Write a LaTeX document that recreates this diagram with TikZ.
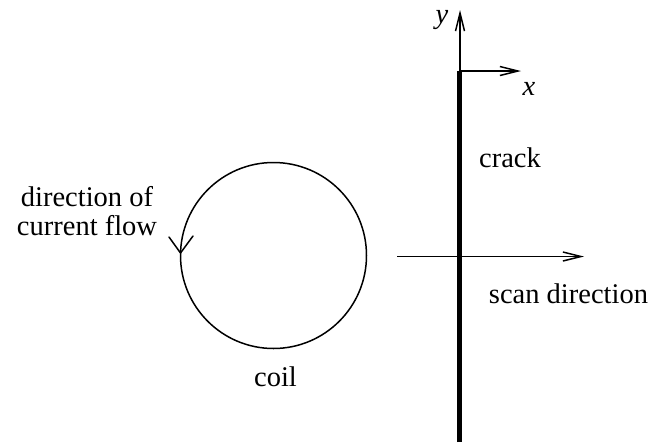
\documentclass[tikz,border=0pt]{standalone}
\usepackage{fontspec}
\setmainfont{Liberation Serif}
\usetikzlibrary{arrows.meta}
\begin{document}
\begin{tikzpicture}[x=1pt,y=-1pt,
  lbl/.style={inner sep=0pt,anchor=base,font=\fontsize{28.5}{29}\selectfont},
  thin line/.style={line width=1.5pt},
  axis arrow/.style={thin line,-{Straight Barb[length=18pt,width=9pt,line width=1.5pt]}}]
\useasboundingbox (0,0) rectangle (667,445);
% coordinates
\coordinate (origin) at (460,71);
\coordinate (ytip) at (460,10);
\coordinate (xtip) at (521,71);
\coordinate (crackbot) at (459.5,442);
\coordinate (cracktop) at (459.5,71);
\coordinate (scanstart) at (397,256.5);
\coordinate (scantip) at (584,256.5);
\coordinate (coilc) at (273.5,255.5);
% crack
\draw[line width=5pt] (crackbot) -- (cracktop);
% axes
\draw[axis arrow] (origin) -- (ytip);
\draw[axis arrow] (origin) -- (xtip);
\node[lbl] (ylabel) at (442,23) {\itshape y};
\node[lbl] (xlabel) at (529,95) {\itshape x};
\node[lbl] (cracklabel) at (510,167) {crack};
% scan direction
\draw[axis arrow] (scanstart) -- (scantip);
\node[lbl] (scanlabel) at (568.5,303) {scan direction};
% coil
\draw[thin line] (coilc) circle[radius=93];
\coordinate (arrtip) at (180.5,253);
\draw[thin line,line cap=round,line join=round] (169,237) -- (arrtip) -- (193,236);
\node[lbl] (coillabel) at (275.5,386) {coil};
\node[lbl,align=center] (flowlabel) at (87,235) {direction of\\current flow};
\end{tikzpicture}
\end{document}
